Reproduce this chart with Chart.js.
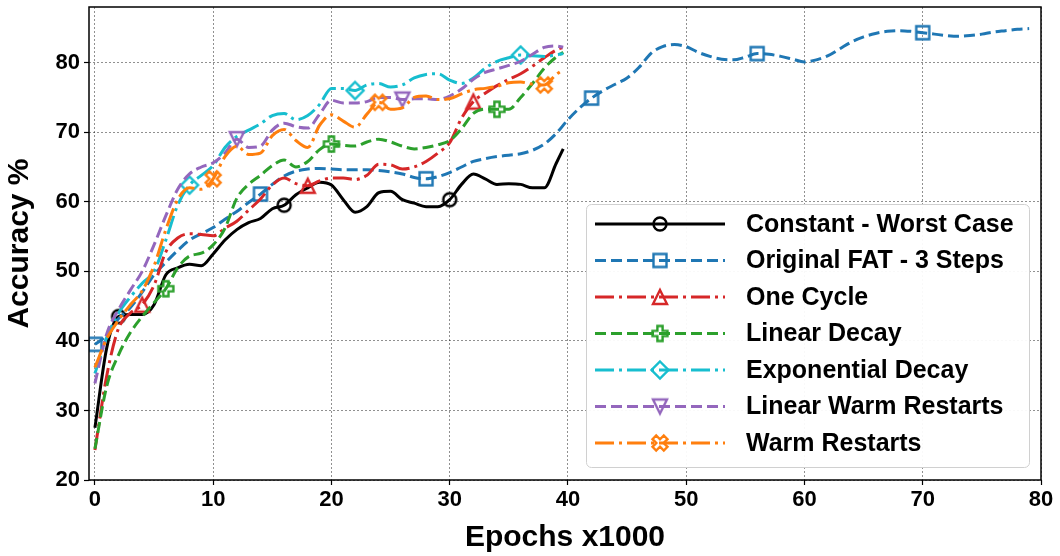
<!DOCTYPE html>
<html>
<head>
<meta charset="utf-8">
<script src="https://cdn.jsdelivr.net/npm/chart.js@4.4.1/dist/chart.umd.min.js"></script>
<style>
  html, body { margin: 0; padding: 0; background: #fff; }
  #wrap { width: 1060px; height: 556px; position: relative; }
</style>
</head>
<body>
<div id="wrap"><canvas id="accChart"></canvas></div>
<script>
// epochs (x1000) for the 40k runs, and for the long FAT run
const EPOCHS = [0, 1, 2, 3, 4, 5, 6, 7, 8, 9, 10, 11, 12, 13, 14, 15, 16, 17, 18, 19,
  20, 21, 22, 23, 24, 25, 26, 27, 28, 29, 30, 31, 32, 33, 34, 35, 36, 37, 38, 39, 39.6];
const FAT_EPOCHS = [0, 1, 2, 3, 4, 5, 6, 7, 8, 9, 10, 11, 12, 13, 14, 15, 16, 17, 18, 19,
  20, 21, 22, 23, 24, 25, 26, 27, 28, 29, 30, 31, 32, 33, 34, 35, 36, 37, 38, 39,
  40, 41, 42, 43, 44, 45, 46, 47, 48, 49, 50, 51, 52, 53, 54, 55, 56, 57, 58, 59,
  60, 61, 62, 63, 64, 65, 66, 67, 68, 69, 70, 71, 72, 73, 74, 75, 76, 77, 78, 79];

const CONSTANT = [27.5, 39, 43.5, 43.8, 43.8, 45.2, 49.5, 50.5, 51, 50.8, 52.5, 54.5, 56, 57, 57.6, 59, 59.5, 61, 62, 62.8,
  62.4, 60.3, 58.5, 59.3, 61.3, 61.5, 60.3, 59.8, 59.3, 59.3, 60.3, 62.5, 64, 63.3, 62.5, 62.6, 62.5, 62, 62, 65.5, 67.6];
const FAT = [39.5, 40.8, 43.2, 44.8, 47, 49.5, 51.3, 53, 54.5, 55.4, 56.3, 57.5, 58.6, 59.9, 61.1, 62.5, 63.7, 64.4, 64.7, 64.8,
  64.7, 64.6, 64.6, 64.6, 64.5, 64.3, 64, 63.5, 63.3, 63.6, 64.2, 65, 65.8, 66.2, 66.5, 66.7, 66.9, 67.4, 68.3, 69.8,
  71.8, 73.5, 74.9, 76, 76.9, 77.8, 79.3, 81.3, 82.3, 82.6, 82.3, 81.5, 80.9, 80.5, 80.4, 80.8, 81.3, 81.2, 80.9, 80.5,
  80.1, 80.4, 81, 82, 83, 83.7, 84.2, 84.5, 84.6, 84.5, 84.3, 84.1, 83.9, 83.8, 83.9, 84.1, 84.4, 84.6, 84.8, 84.9];
const ONE_CYCLE = [24.3, 35, 41.8, 44, 45.2, 48, 52.8, 54.8, 55.4, 55.3, 55.1, 56.2, 57.2, 58.8, 60.4, 62.4, 63.4, 62.6, 62.3, 63,
  63.4, 63.4, 63.2, 63.8, 65.4, 65.3, 64.7, 65, 65.8, 67, 68.5, 72, 74.4, 75.6, 76.7, 77.6, 78.4, 79.5, 80.7, 81.8, 82.2];
const LINEAR_DECAY = [24.5, 33.5, 38, 41.2, 43.5, 45.5, 47.5, 50.5, 52.2, 52.6, 53.8, 56.2, 60.5, 62.5, 63.8, 65.2, 66, 65, 65.8, 67.5,
  68.3, 68.1, 68, 68.6, 69, 68.6, 68, 67.6, 67.8, 68.2, 68.8, 70.5, 72.7, 73.3, 73.3, 73.3, 75, 77, 79.2, 80.8, 81.5];
const EXP_DECAY = [35.3, 40.5, 44, 46.3, 48.3, 50, 54.5, 59.5, 62.4, 63.8, 65.2, 67.8, 69.4, 70.3, 71.2, 72.4, 72.7, 71.8, 72.4, 74,
  76.3, 76.3, 76, 76.8, 77, 76.5, 76.8, 77.8, 78.3, 78.4, 77.5, 77, 77.8, 79.2, 80.2, 80.7, 81.1, 81, 80.9, 81.1, 81.3];
const LIN_WARM_RESTARTS = [33.9, 41, 44.5, 47.3, 50, 53.8, 58, 61.8, 64, 65, 65.6, 67, 69, 67.8, 68, 70.3, 71.3, 70.8, 70.6, 72.6,
  74.6, 74.2, 74.2, 74.4, 75, 75, 74.7, 74.8, 74.8, 74.7, 75.2, 76.2, 77.6, 78.6, 79.1, 79.6, 80.2, 81.2, 82.2, 82.4, 82.2];
const WARM_RESTARTS = [36.2, 40.3, 43, 45.2, 47.2, 50.8, 56, 60.3, 62, 61.8, 63.3, 66.5, 68, 66.8, 67, 69.5, 70.4, 68.8, 67.8, 71,
  72.5, 71.6, 70.7, 72.6, 74.3, 73.3, 73.5, 75, 75.2, 74.7, 74.8, 75.5, 76.1, 76.3, 76.6, 77.1, 77.2, 76.9, 76.8, 78.3, 79];

const Y_TICKS = [20, 30, 40, 50, 60, 70, 80];
const X_TICKS = [0, 10, 20, 30, 40, 50, 60, 70, 80];

const DASHED = [11, 5];
const DASHDOT = [19, 5, 3, 5];
const FONT = '"Liberation Sans", Arial, Helvetica, sans-serif';

// hollow matplotlib-like markers drawn on small canvases
function makeMarker(shape, color) {
  const c = document.createElement('canvas');
  c.width = 24; c.height = 24;
  const g = c.getContext('2d');
  g.translate(12, 12);
  g.strokeStyle = color;
  g.lineWidth = 2.4;
  g.beginPath();
  if (shape === 'circle') {
    g.arc(0, 0, 6.5, 0, Math.PI * 2);
  } else if (shape === 'square') {
    g.rect(-6.5, -6.5, 13, 13);
  } else if (shape === 'triUp') {
    g.moveTo(0, -7); g.lineTo(7, 7); g.lineTo(-7, 7); g.closePath();
  } else if (shape === 'triDown') {
    g.moveTo(0, 7); g.lineTo(7, -7); g.lineTo(-7, -7); g.closePath();
  } else if (shape === 'diamond') {
    g.moveTo(0, -8.5); g.lineTo(8.5, 0); g.lineTo(0, 8.5); g.lineTo(-8.5, 0); g.closePath();
  } else {
    if (shape === 'x') g.rotate(Math.PI / 4);
    const s = shape === 'x' ? 8 : 7.5, a = 2.6;
    const pts = [[-a, -s], [a, -s], [a, -a], [s, -a], [s, a], [a, a], [a, s], [-a, s], [-a, a], [-s, a], [-s, -a], [-a, -a]];
    pts.forEach((p, i) => i ? g.lineTo(p[0], p[1]) : g.moveTo(p[0], p[1]));
    g.closePath();
  }
  g.stroke();
  return c;
}

const SERIES = [
  { label: 'Constant - Worst Case', xs: EPOCHS, ys: CONSTANT, color: '#000000', dash: [], marker: 'circle', offset: 2 },
  { label: 'Original FAT - 3 Steps', xs: FAT_EPOCHS, ys: FAT, color: '#1f77b4', dash: DASHED, marker: 'square', offset: 0 },
  { label: 'One Cycle', xs: EPOCHS, ys: ONE_CYCLE, color: '#d62728', dash: DASHDOT, marker: 'triUp', offset: 4 },
  { label: 'Linear Decay', xs: EPOCHS, ys: LINEAR_DECAY, color: '#2ca02c', dash: DASHED, marker: 'plus', offset: 6 },
  { label: 'Exponential Decay', xs: EPOCHS, ys: EXP_DECAY, color: '#17becf', dash: DASHDOT, marker: 'diamond', offset: 8 },
  { label: 'Linear Warm Restarts', xs: EPOCHS, ys: LIN_WARM_RESTARTS, color: '#9467bd', dash: DASHED, marker: 'triDown', offset: 12 },
  { label: 'Warm Restarts', xs: EPOCHS, ys: WARM_RESTARTS, color: '#ff7f0e', dash: DASHDOT, marker: 'x', offset: 10 }
];
SERIES.forEach(s => { s.img = makeMarker(s.marker, s.color); });

const datasets = SERIES.map((s, i) => ({
  label: s.label,
  data: s.xs.map((x, j) => ({ x: x, y: s.ys[j] })),
  borderColor: s.color,
  borderWidth: 3,
  borderDash: s.dash,
  borderJoinStyle: 'round',
  cubicInterpolationMode: 'monotone',
  fill: false,
  pointStyle: s.img,
  // a marker every 14 points, starting at the series offset (not on the last point)
  pointRadius: ctx => (ctx.dataIndex >= s.offset && ctx.dataIndex < s.xs.length - 1 &&
    (ctx.dataIndex - s.offset) % 14 === 0) ? 7 : 0,
  pointHoverRadius: 0,
  order: SERIES.length - i
}));

// axes frame on all four sides
const frame = {
  id: 'frame',
  afterDraw(chart) {
    const { ctx, chartArea: a } = chart;
    ctx.save();
    ctx.strokeStyle = '#000';
    ctx.lineWidth = 1.5;
    ctx.setLineDash([]);
    ctx.strokeRect(a.left, a.top, a.right - a.left, a.bottom - a.top);
    ctx.restore();
  }
};

// matplotlib style legend box in the lower right
const legendBox = {
  id: 'legendBox',
  afterDatasetsDraw(chart) {
    const { ctx } = chart;
    const x0 = 586, y0 = 204, w = 443, h = 263;
    ctx.save();
    ctx.setLineDash([]);
    ctx.fillStyle = 'rgba(255,255,255,0.95)';
    ctx.strokeStyle = '#d0d0d0';
    ctx.lineWidth = 1;
    ctx.beginPath();
    ctx.roundRect(x0 + 0.5, y0 + 0.5, w, h, 5);
    ctx.fill();
    ctx.stroke();
    ctx.font = 'bold 25px ' + FONT;
    ctx.textBaseline = 'middle';
    SERIES.forEach((s, i) => {
      const y = 224 + i * 36.5;
      ctx.strokeStyle = s.color;
      ctx.lineWidth = 3;
      ctx.setLineDash(s.dash);
      ctx.beginPath();
      ctx.moveTo(595, y);
      ctx.lineTo(725, y);
      ctx.stroke();
      ctx.setLineDash([]);
      ctx.drawImage(s.img, 660 - s.img.width / 2, y - s.img.height / 2);
      ctx.fillStyle = '#000';
      ctx.fillText(s.label, 746, y + 1);
    });
    ctx.restore();
  }
};

Chart.defaults.color = '#000';
Chart.defaults.font.family = FONT;

const gridOpts = { color: 'rgba(0,0,0,0.55)', lineWidth: 0.8, tickColor: '#000', tickLength: 5, tickWidth: 1.2, tickBorderDash: [] };

new Chart(document.getElementById('accChart').getContext('2d'), {
  type: 'line',
  data: { datasets: datasets },
  options: {
    responsive: true,
    maintainAspectRatio: false,
    animation: false,
    layout: { autoPadding: false, padding: { top: 7, right: 19, left: 0, bottom: 0 } },
    plugins: { legend: { display: false }, tooltip: { enabled: false } },
    scales: {
      x: {
        type: 'linear',
        min: -0.5,
        max: 80,
        afterBuildTicks: scale => { scale.ticks = X_TICKS.map(v => ({ value: v })); },
        afterFit: scale => { scale.height = 76; scale.paddingLeft = 0; scale.paddingRight = 0; },
        ticks: { font: { size: 22, weight: 'bold' }, padding: 2, maxRotation: 0 },
        grid: gridOpts,
        border: { display: false, dash: [2, 2] },
        title: { display: true, text: 'Epochs x1000', font: { size: 30, weight: 'bold' }, padding: { top: 0, bottom: 0 } }
      },
      y: {
        min: 20,
        max: 88,
        afterBuildTicks: scale => { scale.ticks = Y_TICKS.map(v => ({ value: v })); },
        afterFit: scale => { scale.width = 89; scale.paddingTop = 0; scale.paddingBottom = 0; },
        ticks: { font: { size: 22, weight: 'bold' }, padding: 4 },
        grid: gridOpts,
        border: { display: false, dash: [2, 2] },
        title: { display: true, text: 'Accuracy %', font: { size: 30, weight: 'bold' }, padding: { top: 2, bottom: 0 } }
      }
    }
  },
  plugins: [legendBox, frame]
});
</script>
</body>
</html>
